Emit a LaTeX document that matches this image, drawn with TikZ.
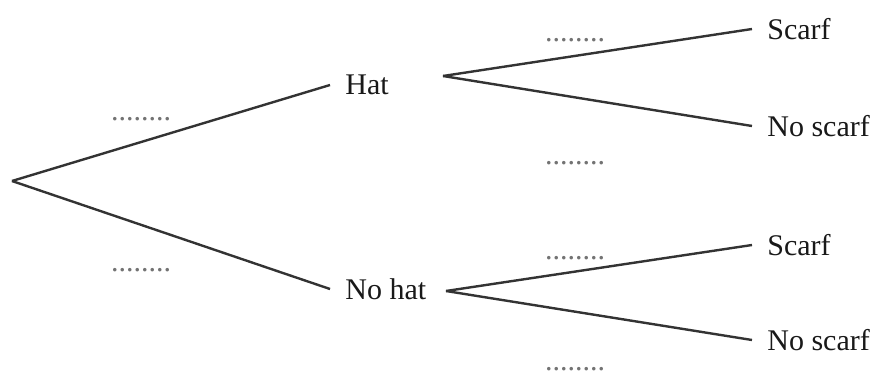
\documentclass[tikz,border=0pt]{standalone}
\usepackage{fontspec}
\setmainfont{Liberation Serif}

\begin{document}
\begin{tikzpicture}[x=0.5pt,y=-0.5pt,
    branch/.style={line width=1.2pt,draw=black!80},
    outcome/.style={anchor=west,inner xsep=7.5pt,inner ysep=0pt,font=\fontsize{15}{18}\selectfont,text=black!90},
    blank/.style={inner sep=0pt,font=\fontsize{15}{18}\selectfont,text=black!55}]
				\useasboundingbox (0,0) rectangle (877,374);
				\coordinate (root) at (12,181);
				\node[outcome] (hat) at (330,85) {Hat};
				\node[outcome] (nohat) at (330,289) {No hat};
				\coordinate (hatfork) at (443,76);
				\coordinate (nohatfork) at (446,291);
				\node[outcome] (s1) at (752,29) {Scarf};
				\node[outcome] (ns1) at (752,126) {No scarf};
				\node[outcome] (s2) at (752,245) {Scarf};
				\node[outcome] (ns2) at (752,340) {No scarf};
				\draw[branch] (root) -- (hat.west);
				\draw[branch] (root) -- (nohat.west);
				\draw[branch] (hatfork) -- (s1.west);
				\draw[branch] (hatfork) -- (ns1.west);
				\draw[branch] (nohatfork) -- (s2.west);
				\draw[branch] (nohatfork) -- (ns2.west);
				\node[blank] (pHat) at (141,119) {........};
				\node[blank] (pNoHat) at (141,270) {........};
				\node[blank] (pS1) at (575,40) {........};
				\node[blank] (pNS1) at (575,163) {........};
				\node[blank] (pS2) at (575,258) {........};
				\node[blank] (pNS2) at (575,369) {........};
			\end{tikzpicture}
\end{document}
